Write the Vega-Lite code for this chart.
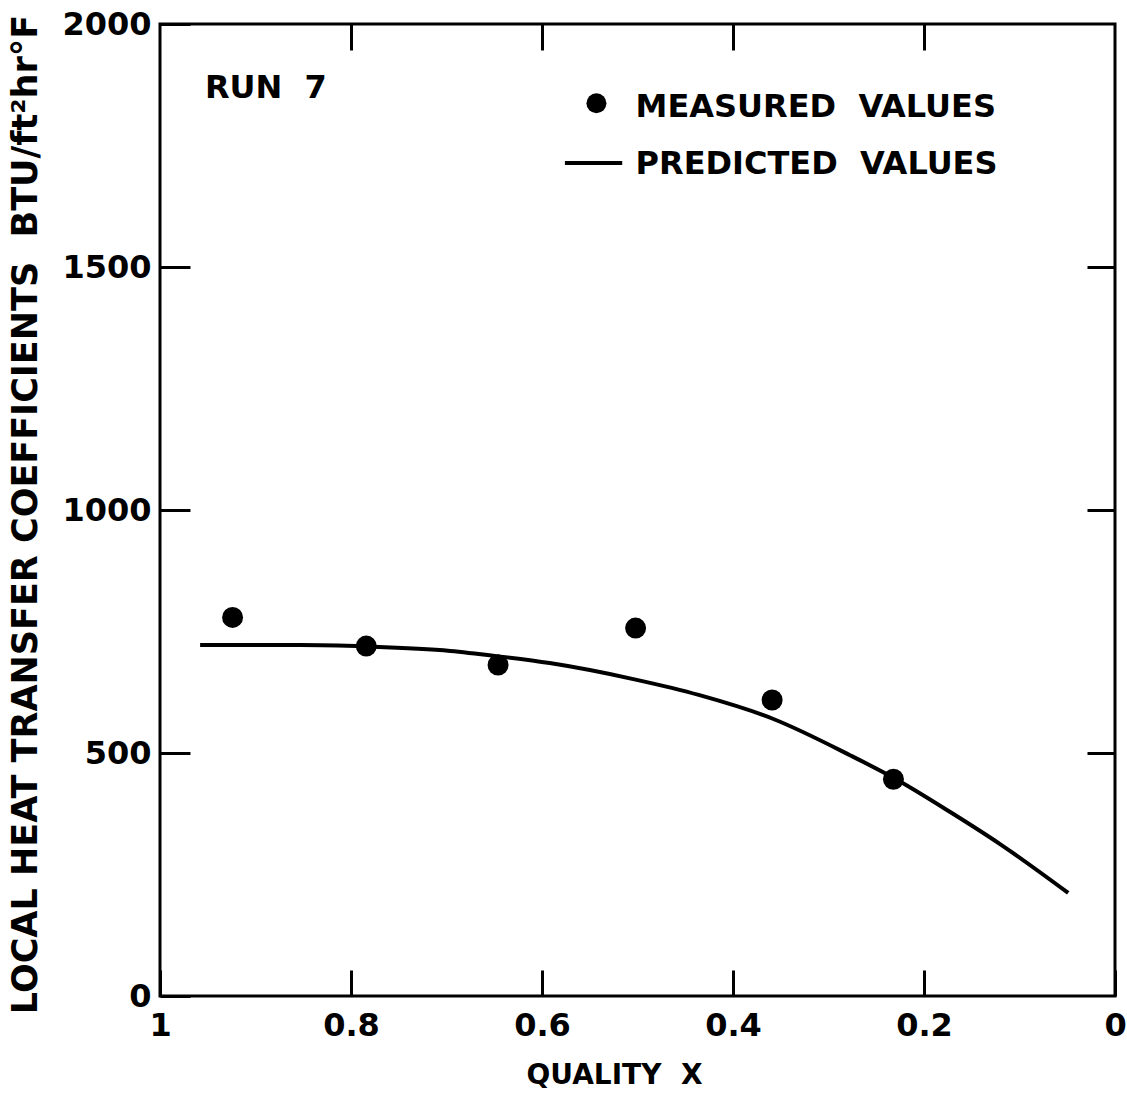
{
  "$schema": "https://vega.github.io/schema/vega-lite/v6.json",
  "width": 955,
  "height": 972,
  "autosize": {"type": "none"},
  "padding": {"left": 160, "top": 24, "right": 12, "bottom": 103},
  "background": "white",
  "config": {
    "view": {"stroke": "black", "strokeWidth": 3},
    "font": "DejaVu Sans",
    "axis": {"grid": false, "domain": false, "tickColor": "black", "tickWidth": 3, "labelColor": "black", "titleColor": "black", "labelFont": "DejaVu Sans", "titleFont": "DejaVu Sans", "labelFontWeight": "bold", "titleFontWeight": "bold"}
  },
  "datasets": {
    "measured": [
      {"quality": 0.924, "h": 779},
      {"quality": 0.784, "h": 720},
      {"quality": 0.646, "h": 681},
      {"quality": 0.502, "h": 757},
      {"quality": 0.359, "h": 609},
      {"quality": 0.232, "h": 446}
    ],
    "predicted": [
      {"quality": 0.958, "h": 722},
      {"quality": 0.853, "h": 722},
      {"quality": 0.784, "h": 719},
      {"quality": 0.696, "h": 710},
      {"quality": 0.646, "h": 699},
      {"quality": 0.592, "h": 685},
      {"quality": 0.502, "h": 651},
      {"quality": 0.435, "h": 619},
      {"quality": 0.359, "h": 571},
      {"quality": 0.277, "h": 495},
      {"quality": 0.232, "h": 449},
      {"quality": 0.173, "h": 379},
      {"quality": 0.120, "h": 312},
      {"quality": 0.049, "h": 212}
    ],
    "labels": [
      {"quality": 0.953, "h": 1868, "label": "RUN\u00a0\u00a07"},
      {"quality": 0.502, "h": 1829, "label": "MEASURED\u00a0\u00a0VALUES"},
      {"quality": 0.502, "h": 1712, "label": "PREDICTED\u00a0\u00a0VALUES"}
    ],
    "legendPoint": [{"quality": 0.543, "h": 1837}],
    "legendLine": [{"q1": 0.576, "q2": 0.516, "h": 1714}]
  },
  "resolve": {"axis": {"x": "independent", "y": "independent"}},
  "layer": [
    {
      "data": {"name": "measured"},
      "mark": {"type": "point", "shape": "circle", "filled": true, "color": "black", "size": 440, "opacity": 1},
      "encoding": {
        "x": {"field": "quality", "type": "quantitative",
          "scale": {"domain": [0, 1], "reverse": true, "nice": false, "zero": false},
          "axis": {"orient": "bottom", "values": [1, 0.8, 0.6, 0.4, 0.2, 0], "format": "~g", "tickSize": -26, "labelPadding": 40, "labelFontSize": 32, "labelFlush": false, "labelBaseline": "top",
            "title": "QUALITY\u00a0\u00a0X", "titleFontSize": 28, "titleX": 454, "titleY": 65, "titleBaseline": "top", "titleAnchor": "middle", "titleAlign": "center"}},
        "y": {"field": "h", "type": "quantitative",
          "scale": {"domain": [0, 2000], "nice": false},
          "axis": {"orient": "left", "values": [0, 500, 1000, 1500, 2000], "format": "d", "tickSize": -30, "labelPadding": 39, "labelFontSize": 32, "labelFlush": false,
            "title": "LOCAL HEAT TRANSFER COEFFICIENTS\u00a0\u00a0BTU/ft²hr°F", "titleFontSize": 35, "titleX": -117, "titleY": 490, "titleBaseline": "bottom"}}
      }
    },
    {
      "data": {"name": "predicted"},
      "mark": {"type": "line", "color": "black", "strokeWidth": 4, "interpolate": "monotone"},
      "encoding": {
        "x": {"field": "quality", "type": "quantitative",
          "axis": {"orient": "top", "values": [0.8, 0.6, 0.4, 0.2], "labels": false, "tickSize": -26, "title": null}},
        "y": {"field": "h", "type": "quantitative",
          "axis": {"orient": "right", "values": [500, 1000, 1500], "labels": false, "tickSize": -28, "title": null}}
      }
    },
    {
      "data": {"name": "legendLine"},
      "mark": {"type": "rule", "color": "black", "strokeWidth": 4},
      "encoding": {
        "x": {"field": "q1", "type": "quantitative", "axis": null},
        "x2": {"field": "q2"},
        "y": {"field": "h", "type": "quantitative", "axis": null}
      }
    },
    {
      "data": {"name": "legendPoint"},
      "mark": {"type": "point", "shape": "circle", "filled": true, "color": "black", "size": 400, "opacity": 1},
      "encoding": {
        "x": {"field": "quality", "type": "quantitative", "axis": null},
        "y": {"field": "h", "type": "quantitative", "axis": null}
      }
    },
    {
      "data": {"name": "labels"},
      "mark": {"type": "text", "align": "left", "baseline": "middle", "fontSize": 32, "font": "DejaVu Sans", "fontWeight": "bold", "color": "black"},
      "encoding": {
        "x": {"field": "quality", "type": "quantitative", "axis": null},
        "y": {"field": "h", "type": "quantitative", "axis": null},
        "text": {"field": "label"}
      }
    }
  ]
}
